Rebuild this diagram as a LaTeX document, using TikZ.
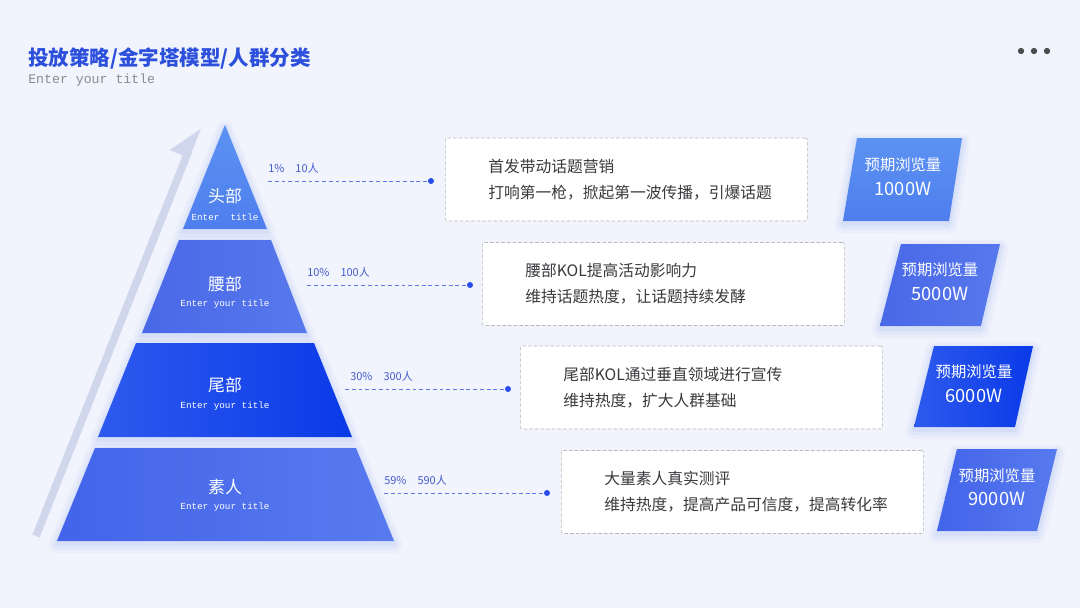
\documentclass[tikz,border=0pt]{standalone}
\usepackage{fontspec}
\newfontfamily\cjk{Noto Sans CJK SC}
\newfontfamily\monof{Liberation Mono}
\usepackage{tikz}
\usetikzlibrary{arrows.meta,positioning,calc}
\usepackage{xcolor}
\definecolor{bgc}{RGB}{241,244,252}
\definecolor{ttlblue}{RGB}{45,80,220}
\definecolor{pctblue}{RGB}{70,92,205}
\definecolor{linkblue}{RGB}{92,122,235}
\definecolor{dotblue}{RGB}{38,78,232}
\definecolor{boxtxt}{RGB}{58,58,62}
\definecolor{arrowgray}{RGB}{208,214,236}
\definecolor{glow}{RGB}{120,145,240}
\definecolor{lvlA}{RGB}{92,146,242}
\definecolor{lvlAb}{RGB}{78,126,238}
\definecolor{lvlB}{RGB}{72,104,232}
\definecolor{lvlBb}{RGB}{88,120,236}
\definecolor{lvlC}{RGB}{46,90,238}
\definecolor{lvlCb}{RGB}{10,58,232}
\definecolor{lvlD}{RGB}{66,100,234}
\definecolor{lvlDb}{RGB}{88,122,238}
\tikzset{
  piece/.style={
    preaction={draw=glow, draw opacity=.05, line width=12pt, line join=round, transform canvas={yshift=-3pt}},
    preaction={draw=glow, draw opacity=.07, line width=7pt, line join=round, transform canvas={yshift=-2.5pt}},
    preaction={draw=glow, draw opacity=.10, line width=3pt, line join=round, transform canvas={yshift=-2pt}}},
  txtbox/.style={draw=black!28, dashed, dash pattern=on 2.5pt off 1.5pt, fill=white, rounded corners=1.5pt, anchor=west,
    minimum width=9.05cm, minimum height=2.075cm, inner xsep=1.075cm, text width=6.9cm, align=left,
    font=\cjk\fontsize{11.2}{18.5}\selectfont, text=boxtxt},
  pct/.style={anchor=west, inner sep=0pt, font=\cjk\fontsize{7.8}{9}\selectfont, text=pctblue},
  link/.style={linkblue, line width=0.6pt, dash pattern=on 2.8pt off 2pt},
  dotn/.style={circle, fill=dotblue, minimum size=0.15cm, inner sep=0pt},
  lvname/.style={text=white, font=\cjk\fontsize{12}{14}\selectfont, inner sep=0pt},
  lvsub/.style={text=white, font=\monof\fontsize{6.6}{8}\selectfont, inner sep=0pt},
  vname/.style={text=white, font=\cjk\fontsize{10.9}{13}\selectfont, inner sep=0pt},
  vnum/.style={text=white, font=\cjk\fontsize{13}{15}\selectfont, inner sep=0pt}
}
\begin{document}
\begin{tikzpicture}[x=0.025cm, y=-0.025cm]
% background
\fill[bgc] (0,0) rectangle (1080,608);
\useasboundingbox (0,0) rectangle (1080,608);
% heading
\node[anchor=west, inner sep=0pt, text=ttlblue, font=\cjk\bfseries\fontsize{14.6}{17}\selectfont] (title) at (28,58) {投放策略/金字塔模型/人群分类};
\node[anchor=west, inner sep=0pt, text=black!45, font=\monof\fontsize{9.4}{11}\selectfont] (subtitle) at (28,80) {Enter your title};
\foreach \x [count=\i] in {1021,1034,1047}
  \node[circle, fill=black!70, minimum size=4.5pt, inner sep=0pt] (menu\i) at (\x,51) {};
% rising arrow (left)
\coordinate (up0) at (36,536);
\coordinate (up1) at (198,127);
\draw[arrowgray, line width=5.5pt, -{Triangle[harpoon, length=19pt, width=24pt]}] (up0) -- (up1);
% pyramid
\path[piece, top color=lvlA, bottom color=lvlAb] (225,125) -- (267,229) -- (183,229) -- cycle;
\path[piece, left color=lvlB, right color=lvlBb] (179,240) -- (271,240) -- (307,333) -- (142,333) -- cycle;
\path[piece, left color=lvlC, right color=lvlCb] (136,343) -- (314,343) -- (352,437) -- (98,437) -- cycle;
\path[piece, left color=lvlD, right color=lvlDb] (95,448) -- (356,448) -- (394,541) -- (57,541) -- cycle;
\node[lvname] (head) at (225,196) {头部};
\node[lvsub] (headsub) at (225,217) {Enter\ \ title};
\node[lvname] (waist) at (225,284) {腰部};
\node[lvsub] (waistsub) at (225,304) {Enter your title};
\node[lvname] (tail) at (225,385) {尾部};
\node[lvsub] (tailsub) at (225,406) {Enter your title};
\node[lvname] (amateur) at (225,487) {素人};
\node[lvsub] (amateursub) at (225,507) {Enter your title};
% shares and links
\node[pct] (pc1) at (268,168) {1\%\quad 10人};
\node[pct] (pc2) at (307,272) {10\%\quad 100人};
\node[pct] (pc3) at (350,376) {30\%\quad 300人};
\node[pct] (pc4) at (384,480) {59\%\quad 590人};
\coordinate (s1) at (268,181);
\coordinate (s2) at (307,285);
\coordinate (s3) at (345,389);
\coordinate (s4) at (384,493);
\node[dotn] (d1) at (431,181) {};
\node[dotn] (d2) at (470,285) {};
\node[dotn] (d3) at (508,389) {};
\node[dotn] (d4) at (547,493) {};
\draw[link] (s1) -- (d1);
\draw[link] (s2) -- (d2);
\draw[link] (s3) -- (d3);
\draw[link] (s4) -- (d4);
% description boxes
\node[txtbox] (b1) at (445,179.5) {首发带动话题营销\\打响第一枪，掀起第一波传播，引爆话题};
\node[txtbox] (b2) at (482,284) {腰部KOL提高活动影响力\\维持话题热度，让话题持续发酵};
\node[txtbox] (b3) at (520,387.5) {尾部KOL通过垂直领域进行宣传\\维持热度，扩大人群基础};
\node[txtbox] (b4) at (561,492) {大量素人真实测评\\维持热度，提高产品可信度，提高转化率};
% expected views (right)
\path[piece, top color=lvlA, bottom color=lvlAb] (857,138) -- (962,138) -- (949,221) -- (843,221) -- cycle;
\path[piece, left color=lvlB, right color=lvlBb] (901,244) -- (1000,244) -- (981,326) -- (880,326) -- cycle;
\path[piece, left color=lvlC, right color=lvlCb] (934,346) -- (1033,346) -- (1015,427) -- (914,427) -- cycle;
\path[piece, left color=lvlD, right color=lvlDb] (957,449) -- (1057,449) -- (1037,531) -- (937,531) -- cycle;
\node[vname] (v1) at (903,165) {预期浏览量};
\node[vnum] (n1) at (903,189) {1000W};
\node[vname] (v2) at (940,270) {预期浏览量};
\node[vnum] (n2) at (940,294) {5000W};
\node[vname] (v3) at (974,372) {预期浏览量};
\node[vnum] (n3) at (974,396) {6000W};
\node[vname] (v4) at (997,476) {预期浏览量};
\node[vnum] (n4) at (997,499) {9000W};
\end{tikzpicture}
\end{document}
